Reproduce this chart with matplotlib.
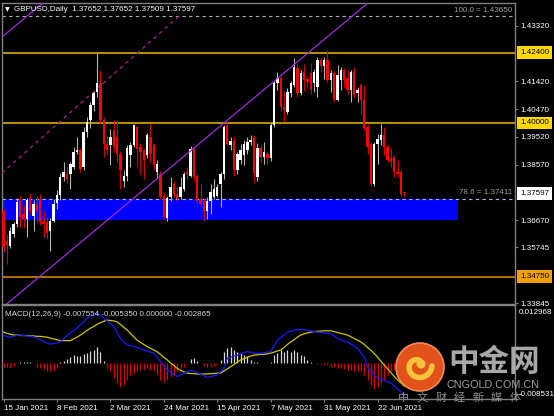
import numpy as np
import matplotlib
matplotlib.use('Agg')
import matplotlib.pyplot as plt
from matplotlib.patches import Rectangle, Circle

plt.rcParams['font.family'] = ['Liberation Sans', 'DejaVu Sans']

# GBPUSD daily bars, 15 Jan 2021 -> 2 Jul 2021
opens = [1.3695, 1.3597, 1.3580, 1.3622, 1.3654, 1.3734, 1.3690, 1.3670, 1.3745, 1.3683,
         1.3723, 1.3740, 1.3666, 1.3660, 1.3631, 1.3666, 1.3725, 1.3755, 1.3815, 1.3826,
         1.3826, 1.3849, 1.3902, 1.3906, 1.3850, 1.3969, 1.4009, 1.4061, 1.4105, 1.4137,
         1.4009, 1.3929, 1.3923, 1.3975, 1.3952, 1.3895, 1.3803, 1.3820, 1.3889, 1.3923,
         1.3986, 1.3918, 1.3906, 1.3889, 1.3952, 1.3923, 1.3832, 1.3826, 1.3752, 1.3675,
         1.3746, 1.3792, 1.3757, 1.3746, 1.3775, 1.3832, 1.3820, 1.3912, 1.3820, 1.3740,
         1.3734, 1.3700, 1.3734, 1.3746, 1.3752, 1.3790, 1.3826, 1.3992, 1.3925, 1.3937,
         1.3840, 1.3872, 1.3889, 1.3906, 1.3935, 1.3952, 1.3815, 1.3915, 1.3883, 1.3895,
         1.3880, 1.3993, 1.4135, 1.4152, 1.4055, 1.4038, 1.4101, 1.4130, 1.4187, 1.4101,
         1.4175, 1.4150, 1.4170, 1.4135, 1.4124, 1.4215, 1.4195, 1.4215, 1.4147, 1.4170,
         1.4080, 1.4147, 1.4181, 1.4152, 1.4112, 1.4175, 1.4101, 1.4129, 1.4078, 1.3986,
         1.3929, 1.3792, 1.3929, 1.3940, 1.3958, 1.3918, 1.3880, 1.3883, 1.3832, 1.3832,
         1.37652]
highs = [1.3705, 1.3620, 1.3645, 1.3660, 1.3745, 1.3750, 1.3720, 1.3745, 1.3760, 1.3735,
         1.3750, 1.3757, 1.3700, 1.3680, 1.3675, 1.3740, 1.3770, 1.3830, 1.3866, 1.3849,
         1.3865, 1.3918, 1.3952, 1.3915, 1.3986, 1.4021, 1.4072, 1.4110, 1.4240, 1.4181,
         1.4020, 1.3960, 1.3980, 1.4009, 1.4009, 1.3905, 1.3840, 1.3925, 1.3935, 1.3998,
         1.3992, 1.3930, 1.3915, 1.3964, 1.3998, 1.3930, 1.3872, 1.3835, 1.3760, 1.3750,
         1.3815, 1.3800, 1.3780, 1.3815, 1.3832, 1.3850, 1.3920, 1.3920, 1.3826, 1.3792,
         1.3745, 1.3746, 1.3792, 1.3809, 1.3792, 1.3832, 1.3992, 1.4003, 1.3952, 1.3952,
         1.3900, 1.3929, 1.3940, 1.3952, 1.3958, 1.3960, 1.3930, 1.3925, 1.3935, 1.3905,
         1.4000, 1.4142, 1.4175, 1.4160, 1.4110, 1.4120, 1.4145, 1.4221, 1.4200, 1.4180,
         1.4200, 1.4160, 1.4205, 1.4185, 1.4225, 1.4225, 1.4225, 1.4250, 1.4180, 1.4180,
         1.4198, 1.4192, 1.4187, 1.4181, 1.4180, 1.4187, 1.4124, 1.4135, 1.4129, 1.3995,
         1.3935, 1.3935, 1.3963, 1.3998, 1.3986, 1.3925, 1.3915, 1.3890, 1.3872, 1.3840,
         1.37652]
lows = [1.3560, 1.3517, 1.3574, 1.3610, 1.3645, 1.3645, 1.3640, 1.3610, 1.3690, 1.3630,
        1.3660, 1.3650, 1.3609, 1.3605, 1.3563, 1.3660, 1.3705, 1.3735, 1.3803, 1.3795,
        1.3775, 1.3843, 1.3895, 1.3832, 1.3840, 1.3952, 1.3981, 1.4040, 1.4090, 1.4000,
        1.3883, 1.3890, 1.3855, 1.3905, 1.3866, 1.3775, 1.3780, 1.3800, 1.3849, 1.3918,
        1.3849, 1.3826, 1.3809, 1.3880, 1.3866, 1.3838, 1.3815, 1.3740, 1.3671, 1.3665,
        1.3734, 1.3746, 1.3734, 1.3740, 1.3769, 1.3810, 1.3815, 1.3803, 1.3723, 1.3717,
        1.3666, 1.3672, 1.3689, 1.3740, 1.3746, 1.3712, 1.3809, 1.3923, 1.3906, 1.3820,
        1.3826, 1.3860, 1.3855, 1.3895, 1.3923, 1.3797, 1.3803, 1.3866, 1.3860, 1.3860,
        1.3870, 1.3985, 1.4112, 1.4040, 1.4003, 1.4030, 1.4090, 1.4124, 1.4090, 1.4095,
        1.4110, 1.4120, 1.4100, 1.4105, 1.4090, 1.4175, 1.4150, 1.4140, 1.4107, 1.4070,
        1.4075, 1.4112, 1.4124, 1.4100, 1.4072, 1.4084, 1.4072, 1.4032, 1.3975, 1.3895,
        1.3786, 1.3786, 1.3860, 1.3925, 1.3889, 1.3866, 1.3850, 1.3815, 1.3815, 1.3751,
        1.37509]
closes = [1.3575, 1.3583, 1.3631, 1.3654, 1.3729, 1.3680, 1.3670, 1.3735, 1.3700, 1.3723,
          1.3700, 1.3660, 1.3654, 1.3625, 1.3666, 1.3723, 1.3755, 1.3815, 1.3832, 1.3809,
          1.3860, 1.3900, 1.3906, 1.3843, 1.3969, 1.4004, 1.4061, 1.4101, 1.4136, 1.4009,
          1.3929, 1.3906, 1.3952, 1.3918, 1.3895, 1.3838, 1.3820, 1.3915, 1.3923, 1.3992,
          1.3912, 1.3900, 1.3872, 1.3958, 1.3895, 1.3855, 1.3861, 1.3746, 1.3677, 1.3745,
          1.3780, 1.3757, 1.3740, 1.3780, 1.3826, 1.3824, 1.3912, 1.3815, 1.3734, 1.3723,
          1.3700, 1.3734, 1.3763, 1.3775, 1.3780, 1.3826, 1.3986, 1.3929, 1.3937, 1.3840,
          1.3895, 1.3906, 1.3929, 1.3935, 1.3940, 1.3830, 1.3915, 1.3883, 1.3900, 1.3880,
          1.3993, 1.4137, 1.4152, 1.4055, 1.4045, 1.4107, 1.4135, 1.4192, 1.4101, 1.4170,
          1.4147, 1.4140, 1.4112, 1.4175, 1.4215, 1.4195, 1.4215, 1.4147, 1.4170, 1.4080,
          1.4164, 1.4181, 1.4147, 1.4112, 1.4175, 1.4095, 1.4112, 1.4078, 1.3981, 1.3918,
          1.3792, 1.3929, 1.3946, 1.3958, 1.3918, 1.3872, 1.3866, 1.3832, 1.3826, 1.3757,
          1.37597]

# MACD(12,26,9) panel, values in units of 1e-3
macd_main = [6.5, 6.3, 6.1, 6.3, 6.5, 6.6, 6.5, 6.4, 6.3, 6.2,
             5.9, 5.5, 5.1, 4.7, 4.5, 4.6, 4.8, 5.0, 5.7, 6.4,
             7.1, 7.6, 8.2, 9.0, 9.7, 10.5, 11.1, 11.5, 11.7, 11.2,
             10.6, 9.9, 9.3, 8.6, 7.2, 5.9, 5.0, 4.3, 4.1, 4.0,
             3.7, 3.4, 3.1, 2.9, 2.6, 2.4, 1.4, 0.4, -0.6, -1.6,
             -2.1, -2.6, -3.1, -2.7, -2.3, -2.0, -1.7, -1.8, -2.2, -2.5,
             -2.9, -3.3, -3.1, -2.9, -2.7, -1.9, -1.2, 1.2, 1.4, 1.7,
             1.9, 2.2, 2.5, 2.7, 2.6, 2.4, 2.3, 2.4, 2.5, 2.6,
             2.7, 4.0, 5.4, 6.0, 6.6, 7.2, 7.5, 7.7, 7.9, 7.9,
             7.9, 7.7, 7.6, 7.4, 7.3, 7.2, 7.1, 7.0, 7.0, 6.4,
             5.8, 5.5, 5.2, 5.0, 4.5, 4.0, 3.5, 2.5, 1.5, -0.8,
             -2.0, -2.7, -3.4, -3.7, -4.0, -4.3, -4.6, -5.3, -6.0, -6.7,
             -7.554]
macd_signal = [7.3, 7.0, 6.8, 6.6, 6.6, 6.5, 6.5, 6.5, 6.4, 6.4,
               6.3, 6.3, 6.2, 6.1, 5.9, 5.7, 5.5, 5.3, 5.3, 5.3,
               5.3, 5.7, 6.1, 6.6, 7.1, 7.7, 8.2, 8.6, 9.1, 9.5,
               9.8, 10.1, 10.0, 9.9, 9.7, 9.1, 8.4, 7.8, 7.0, 6.2,
               5.4, 4.9, 4.4, 3.9, 3.5, 3.1, 2.7, 2.1, 1.4, 0.8,
               0.1, -0.5, -1.2, -1.6, -2.0, -2.3, -2.4, -2.4, -2.5, -2.5,
               -2.5, -2.5, -2.4, -2.4, -2.3, -2.3, -1.8, -1.3, -0.8, -0.3,
               0.3, 0.8, 1.1, 1.4, 1.7, 1.9, 2.0, 2.1, 2.1, 2.2,
               2.4, 2.6, 2.9, 3.1, 3.7, 4.4, 5.0, 5.5, 6.1, 6.6,
               6.9, 7.1, 7.3, 7.4, 7.5, 7.5, 7.6, 7.6, 7.6, 7.4,
               7.2, 7.0, 6.8, 6.6, 6.2, 5.8, 5.4, 5.0, 4.4, 3.7,
               3.0, 2.3, 1.4, 0.5, -0.4, -1.3, -2.2, -3.1, -3.9, -4.6,
               -5.35]
macd_hist = [-0.8, -0.8, -0.8, -0.6, 0.0, 0.2, 0.2, 0.3, 0.2, 0.1,
             -0.8, -1.1, -1.3, -1.9, -1.9, -1.6, -1.2, 0.3, 0.6, 0.9,
             1.4, 1.9, 1.6, 1.8, 2.2, 2.5, 2.9, 3.2, 3.9, 2.7,
             0.5, -1.2, -1.9, -3.5, -4.7, -5.5, -5.1, -3.9, -2.7, -2.3,
             -1.9, -1.6, -1.3, -1.2, -1.6, -1.9, -2.7, -3.9, -4.3, -3.9,
             -3.3, -2.7, -1.9, -1.2, -0.8, 0.0, 0.9, 1.2, 0.5, 0.0,
             -0.6, -0.8, -0.8, -0.6, -0.3, 0.8, 2.7, 3.5, 3.9, 3.1,
             2.7, 2.3, 1.9, 1.6, 0.8, 0.4, 0.2, 0.1, 0.0, 0.0,
             0.3, 1.9, 2.3, 3.1, 2.7, 3.0, 2.7, 3.1, 2.7, 1.9,
             1.6, 0.8, 0.4, 0.1, -0.1, -0.2, -0.3, -0.4, -0.8, -0.8,
             -1.0, -1.2, -1.4, -1.6, -1.6, -1.7, -1.8, -1.9, -2.7, -3.9,
             -5.1, -6.1, -5.6, -4.7, -3.9, -2.7, -1.9, -1.6, -1.2, -1.0,
             -0.8]

date_pos = [0, 16, 32, 48, 64, 80, 96, 112]
date_labels = ['15 Jan 2021', '8 Feb 2021', '2 Mar 2021', '24 Mar 2021',
               '15 Apr 2021', '7 May 2021', '31 May 2021', '22 Jun 2021']
price_ticks = [1.43320, 1.41420, 1.40470, 1.39520, 1.38570, 1.36670, 1.35745, 1.33845]

# drawn objects
level_high, level_mid, level_low = 1.42400, 1.40000, 1.34750
fib_100, fib_786 = 1.43650, 1.37411
zone_bottom, zone_end = 1.3668, 136
channel_low_pt = (10.3, 1.3470)
channel_high_pt = (-0.45, 1.42937)
channel_slope = 0.000951
mid_start, mid_end = (-0.45, 1.38289), (53, 1.43697)

W, H = 554, 416
BG = 'black'
GRID = '#808080'

fig = plt.figure(figsize=(W / 100, H / 100), dpi=100, facecolor=BG)
ax = fig.add_axes([2 / W, 1 - 304 / H, 513 / W, 301 / H], facecolor=BG)
ax2 = fig.add_axes([2 / W, 1 - 399 / H, 513 / W, 94 / H], facecolor=BG)

x = np.arange(len(closes))
o, hi, lo, c = map(np.array, (opens, highs, lows, closes))
up = c >= o

# background objects
ax.add_patch(Rectangle((-0.45, zone_bottom), zone_end + 0.45, fib_786 - zone_bottom,
                       facecolor='#0000ff', edgecolor='none', zorder=1))
ax.axhline(fib_100, color='#b0b0b0', lw=0.8, ls=(0, (3, 3)), zorder=2)
ax.axhline(fib_786, color='#b8b8d8', lw=0.8, ls=(0, (3, 3)), zorder=2)
ax.axhline(level_high, color='#c8a000', lw=1.3, zorder=2)
ax.axhline(level_mid, color='#c8a000', lw=1.3, zorder=2)
ax.axhline(level_low, color='#c87800', lw=1.3, zorder=2)

# candles
ax.vlines(x[up], lo[up], hi[up], color='#b4b4b4', lw=0.8, zorder=3)
ax.vlines(x[~up], lo[~up], hi[~up], color='#d40000', lw=0.8, zorder=3)
body = np.maximum(np.abs(c - o), 0.00005)
ax.bar(x[up], body[up], bottom=o[up], width=0.72, color='white', lw=0, zorder=4)
ax.bar(x[~up], body[~up], bottom=c[~up], width=0.72, color='#ff0000', lw=0, zorder=4)

# channel
ax.axline(channel_low_pt, slope=channel_slope, color='#9a30d8', lw=0.9, zorder=5)
ax.axline(channel_high_pt, slope=channel_slope, color='#9a30d8', lw=0.9, zorder=5)
ax.plot([mid_start[0], mid_end[0]], [mid_start[1], mid_end[1]], color='#a8208c',
        lw=0.9, ls=(0, (3, 3)), zorder=5)

ax.set_xlim(-0.45, 153.14)
ax.set_ylim(1.33812, 1.44099)

for a in (ax, ax2):
    for s in a.spines.values():
        s.set_color(GRID)
        s.set_linewidth(1.0)

ax.set_xticks([])
ax.yaxis.tick_right()
ax.set_yticks(price_ticks)
ax.set_yticklabels([f'{v:.5f}' for v in price_ticks])
ax.tick_params(axis='y', colors=GRID, labelcolor='white', length=2.5, width=0.8,
               labelsize=5.8, pad=1.5)

boxes = [(level_high, '#ffd800'), (level_mid, '#ffd800'),
         (closes[-1], 'white'), (level_low, '#f0a000')]
for val, col in boxes:
    ax.text(1.0 + 5 / 513, val, f'{val:.5f}', transform=ax.get_yaxis_transform(),
            ha='left', va='center', fontsize=5.8, color='black', clip_on=False,
            bbox=dict(boxstyle='square,pad=0.35', fc=col, ec='none'))

ax.text(1.0 - 3 / 513, fib_100 + 0.0008, f'100.0 = {fib_100:.5f}', transform=ax.get_yaxis_transform(),
        ha='right', va='bottom', fontsize=5.8, color='#a0a0a0')
ax.text(1.0 - 3 / 513, fib_786 + 0.0008, f'78.6 = {fib_786:.5f}', transform=ax.get_yaxis_transform(),
        ha='right', va='bottom', fontsize=5.8, color='#a0a0a0')

fig.text(5 / W, 1 - 9.5 / H, '\u25bc', fontsize=4.5, color='white', va='center',
         family=['DejaVu Sans'])
fig.text(14 / W, 1 - 9.5 / H, 'GBPUSD,Daily  1.37652 1.37652 1.37509 1.37597',
         fontsize=5.8, color='white', va='center')

# MACD
hist = np.array(macd_hist) * 1e-3
ax2.vlines(x, 0, hist, colors=np.where(hist >= 0, '#d8d8d8', '#d80000'), lw=0.9)
ax2.plot(x, np.array(macd_signal) * 1e-3, color='#d0c400', lw=0.9)
ax2.plot(x, np.array(macd_main) * 1e-3, color='#1a1aff', lw=0.9)
ax2.set_xlim(-0.45, 153.14)
ax2.set_ylim(-0.008343, 0.013625)
ax2.set_yticks([])
ax2.set_xticks(date_pos)
ax2.set_xticklabels(date_labels)
for lbl in ax2.get_xticklabels():
    lbl.set_ha('left')
ax2.tick_params(axis='x', colors=GRID, labelcolor='white', length=2.5, width=0.8,
                labelsize=5.8, pad=1.5)

fig.text(5 / W, 1 - 314 / H, 'MACD(12,26,9) -0.007554 -0.005350 0.000000 -0.002865',
         fontsize=5.8, color='#d8d8d8', va='center')
fig.text(519 / W, 1 - 313 / H, '0.012968', fontsize=5.8, color='white', va='center')
fig.text(519 / W, 1 - 395 / H, '-0.008531', fontsize=5.8, color='white', va='center')

# watermark
ov = fig.add_axes([0, 0, 1, 1])
ov.set_xlim(0, W)
ov.set_ylim(H, 0)
ov.axis('off')
ov.patch.set_alpha(0)
ov.add_patch(Circle((420, 367), 24, facecolor='#e4521c', edgecolor='#f08a5a', lw=1.2))
t = np.linspace(0.3, 2.0 * np.pi, 60)
r = 4 + 10 * (t - 0.3) / (2.0 * np.pi - 0.3)
ov.plot(418 + r * np.cos(t), 366 - r * np.sin(t), color='#f7c23c', lw=4.0,
        solid_capstyle='round')
ov.add_patch(Circle((421, 364), 4.5, facecolor='#f7c23c', edgecolor='none'))
ov.text(494, 362, '中金网', fontsize=22, fontweight='bold', color='#a8a8a8',
        ha='center', va='center', family=['Noto Sans CJK SC'])
ov.text(493, 385, 'CNGOLD.COM.CN', fontsize=7.8, color='#a0a0a0',
        ha='center', va='center')
for k, ch in enumerate('中文财经新媒体'):
    ov.text(404 + 18.5 * k, 397.5, ch, fontsize=8, color='#909090',
            ha='center', va='center', family=['Noto Sans CJK SC'])

fig.savefig('out.png', dpi=100, facecolor=BG)
